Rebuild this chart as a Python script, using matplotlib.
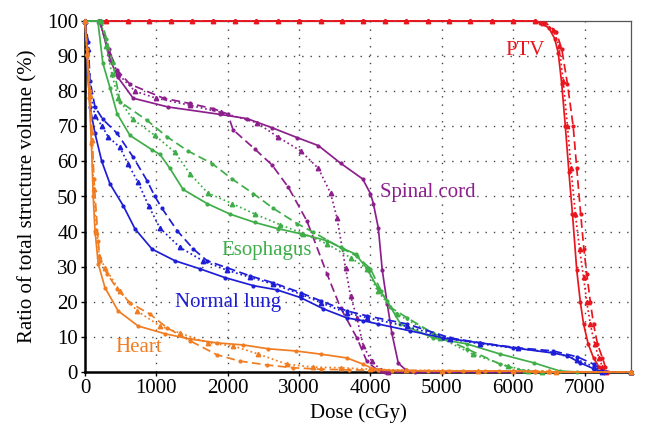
import matplotlib
matplotlib.use("Agg")
import matplotlib.pyplot as plt

plt.rcParams['font.family'] = ['Liberation Serif', 'DejaVu Serif']

# ---------------- data (dose cGy, volume %) ----------------
ptv_top_d = [0, 300, 600, 900, 1200, 1500, 1800, 2100, 2400, 2700, 3000, 3300, 3600,
             3900, 4200, 4500, 4800, 5100, 5400, 5700, 6000, 6300]
ptv_a_d = ptv_top_d + [6380, 6500, 6580, 6630, 6680, 6730, 6780, 6830, 6890, 6940, 6985, 7050, 7125, 7200, 7270, 7650]
ptv_a_v = [100] * 22 + [99.5, 98, 95, 91, 82, 70, 57, 45, 29, 20, 13.7, 8, 4, 1.5, 0, 0]
ptv_b_d = ptv_top_d + [6450, 6600, 6680, 6760, 6840, 6890, 6945, 6990, 7030, 7080, 7125, 7180, 7250, 7290, 7330, 7650]
ptv_b_v = [100] * 22 + [99.5, 97, 92, 82, 70, 58, 45, 35, 28, 20, 13.7, 8, 4, 1.5, 0, 0]
ptv_c_d = ptv_top_d + [6420, 6560, 6640, 6700, 6760, 6810, 6870, 6930, 6985, 7030, 7080, 7140, 7200, 7250, 7300, 7650]
ptv_c_v = [100] * 22 + [99.5, 97.5, 93, 83, 70, 58, 45, 35, 27, 20, 13.7, 8, 4, 1.5, 0, 0]

cord_a_d = [0, 210, 350, 460, 675, 1165, 1890, 2270, 2620, 2970, 3270, 3580, 3890, 4000, 4040, 4110, 4165, 4235, 4300, 4390, 4500, 4630, 7650]
cord_a_v = [100, 100, 89, 84, 78, 75.5, 73.4, 72.2, 69.6, 66.8, 64.5, 59.5, 55, 50.8, 48, 41, 29, 19.4, 11, 2.5, 0.5, 0, 0]
cord_b_d = [0, 200, 330, 450, 630, 1100, 1470, 1800, 2000, 2075, 2380, 2620, 2850, 3110, 3390, 3580, 3810, 3950, 4100, 4200, 7650]
cord_b_v = [100, 100, 92, 86, 82, 78, 76.5, 75, 73.5, 69, 63.5, 59, 52.6, 43, 28, 18.3, 9.7, 3, 0.5, 0, 0]
cord_c_d = [0, 200, 340, 460, 700, 1000, 1470, 1900, 2410, 2700, 3020, 3270, 3440, 3530, 3650, 3720, 3810, 3900, 4020, 4150, 4250, 7650]
cord_c_v = [100, 100, 91, 85, 80, 78, 76, 74, 71, 67, 63, 58, 51, 44, 29.7, 21.7, 15.4, 7.4, 3, 0.5, 0, 0]

eso_a_d = [0, 180, 250, 350, 450, 630, 940, 1050, 1190, 1375, 1710, 2030, 2380, 2710, 3020, 3390, 3580, 3790, 3950, 4100, 4230, 4420, 4880, 5350, 5820, 6290, 6650, 6900, 7650]
eso_a_v = [100, 100, 88, 81, 73.6, 67.4, 63.3, 62, 58, 52, 48, 45, 42.6, 40.8, 39.4, 37.4, 35.5, 33.6, 29.5, 24, 20.3, 13.7, 9.7, 8, 5.1, 2.6, 0.3, 0, 0]
eso_b_d = [0, 230, 300, 390, 490, 870, 1150, 1440, 1780, 2060, 2360, 2640, 2970, 3200, 3620, 3810, 4000, 4150, 4280, 4510, 4880, 5350, 5820, 6150, 6300, 7650]
eso_b_v = [100, 100, 95, 88, 77, 71.7, 67, 63, 59.4, 55, 50.8, 46.6, 42.3, 39.8, 35, 33, 29.4, 23, 18.4, 15.5, 11, 6.6, 2.2, 0.3, 0, 0]
eso_c_d = [0, 220, 300, 375, 465, 670, 980, 1260, 1470, 1720, 2060, 2380, 2730, 3060, 3390, 3720, 3950, 4100, 4370, 4980, 5440, 5920, 6200, 6400, 7650]
eso_c_v = [100, 100, 93, 85, 78, 72, 67.4, 62.6, 56.5, 51, 48, 45, 42, 39.4, 36.5, 32.6, 29.4, 23, 16.5, 9.7, 5, 1.7, 0.3, 0, 0]

lung_a_d = [0, 20, 40, 70, 140, 235, 350, 535, 700, 940, 1260, 1610, 1960, 2360, 2690, 3020, 3340, 3670, 3900, 4100, 4560, 5020, 5540, 6000, 6560, 6760, 6940, 7130, 7250, 7650]
lung_a_v = [100, 95, 85, 75.5, 68, 60, 53.6, 47.4, 40.8, 35, 31.7, 29.4, 26.9, 24.6, 23.4, 21.2, 18, 15.4, 14.6, 13.7, 11.7, 9.7, 8.3, 6.9, 5.4, 4.6, 2.6, 0.9, 0, 0]
lung_b_d = [0, 45, 70, 140, 250, 450, 675, 870, 980, 1080, 1290, 1520, 1710, 1990, 2310, 2640, 3020, 3300, 3670, 3950, 4510, 5120, 5540, 6060, 6560, 6900, 7130, 7250, 7300, 7650]
lung_b_v = [100, 94, 83, 75.5, 72, 68, 61.2, 54.5, 50, 46.6, 40.3, 35, 31.7, 29.7, 27.4, 25.4, 22.6, 20.3, 17.4, 16, 13.7, 9.7, 8.3, 6.9, 6, 4.3, 2.2, 0.3, 0, 0]
lung_c_d = [0, 40, 70, 140, 240, 325, 490, 600, 745, 890, 1050, 1330, 1650, 1990, 2310, 2640, 3020, 3300, 3670, 3950, 4510, 5120, 5540, 6060, 6560, 6900, 7130, 7250, 7650]
lung_c_v = [100, 92, 80, 73, 70, 67, 64, 59.4, 54, 47.4, 41, 35.5, 31.7, 29, 27, 25, 22.2, 19.8, 16.8, 15.5, 13, 9.4, 8, 6.7, 5.6, 3.5, 1.5, 0, 0]

heart_a_d = [0, 30, 60, 90, 115, 140, 185, 280, 465, 745, 1120, 1470, 1850, 2220, 2570, 2950, 3300, 3670, 3900, 4040, 4300, 4800, 5300, 5800, 6300, 6500, 7650]
heart_a_v = [100, 90, 78, 65, 50, 40.3, 30.9, 24, 17.4, 13.1, 10.9, 9.4, 8.3, 7.7, 6.6, 6, 5.1, 4, 2.2, 0.9, 0.4, 0.3, 0.3, 0.3, 0.2, 0, 0]
heart_b_d = [0, 35, 70, 100, 125, 185, 210, 310, 450, 630, 910, 1150, 1470, 1850, 2170, 2550, 2920, 3300, 3700, 4100, 4600, 5100, 5600, 6000, 6300, 7650]
heart_b_v = [100, 92, 80, 68, 55, 37.4, 31.7, 28, 23.7, 19.7, 16.5, 12.6, 8.9, 4.9, 3.1, 2, 1.2, 0.8, 0.6, 0.5, 0.4, 0.3, 0.3, 0.2, 0, 0]
heart_c_d = [0, 30, 65, 95, 120, 160, 200, 280, 490, 730, 1050, 1330, 1720, 2080, 2430, 2830, 3200, 3580, 4000, 4500, 5000, 5500, 6000, 6500, 6600, 7650]
heart_c_v = [100, 91, 79, 66, 52, 40, 33, 29.7, 23, 17.4, 13.1, 11.1, 8.3, 7.4, 5.1, 2.2, 1.4, 1.2, 0.8, 0.5, 0.4, 0.3, 0.3, 0.2, 0, 0]

structures = [
    ("PTV", '#e8161e', (ptv_a_d, ptv_a_v), (ptv_b_d, ptv_b_v), (ptv_c_d, ptv_c_v), (6160, 91.5)),
    ("Spinal cord", '#8c1f8c', (cord_a_d, cord_a_v), (cord_b_d, cord_b_v), (cord_c_d, cord_c_v), (4810, 51)),
    ("Esophagus", '#3fae49', (eso_a_d, eso_a_v), (eso_b_d, eso_b_v), (eso_c_d, eso_c_v), (2540, 34.6)),
    ("Normal lung", '#1e1ed6', (lung_a_d, lung_a_v), (lung_b_d, lung_b_v), (lung_c_d, lung_c_v), (2010, 19.7)),
    ("Heart", '#f07d22', (heart_a_d, heart_a_v), (heart_b_d, heart_b_v), (heart_c_d, heart_c_v), (760, 6.9)),
]

xticks = [0, 1000, 2000, 3000, 4000, 5000, 6000, 7000]
yticks = [0, 10, 20, 30, 40, 50, 60, 70, 80, 90, 100]

# ---------------- figure ----------------
fig = plt.figure(figsize=(6.45, 4.48), dpi=100)
ax = fig.add_axes([85 / 645, 1 - 372 / 448, (631 - 85) / 645, (372 - 21) / 448])

for xv in xticks[1:]:
    ax.axvline(xv, color='#444444', lw=1.0, ls=(0, (1, 5)), zorder=1)
for yv in yticks[1:-1]:
    ax.axhline(yv, color='#444444', lw=1.0, ls=(0, (1, 5)), zorder=1)

for name, col, solid, dashed, dotted, (tx, ty) in structures:
    ax.plot(solid[0], solid[1], color=col, lw=1.25, ls='-', marker='o', ms=2.0,
            clip_on=False, zorder=3)
    ax.plot(dashed[0], dashed[1], color=col, lw=1.25, ls=(0, (5, 2.5)), marker='o', ms=2.0,
            clip_on=False, zorder=3)
    ax.plot(dotted[0], dotted[1], color=col, lw=1.25, ls=(0, (1, 1.6)), marker='^', ms=3.2,
            clip_on=False, zorder=3)
    ax.text(tx, ty, name, color=col, fontsize=15, ha='center', va='center', zorder=4)

ax.set_xlim(0, 7650)
ax.set_ylim(0, 100)
ax.set_xticks(xticks)
ax.set_yticks(yticks)
ax.tick_params(labelsize=15, length=3, width=1, direction='out', pad=2, colors='black')
ax.set_xlabel("Dose (cGy)", fontsize=15, labelpad=4)
ax.set_ylabel("Ratio of total structure volume (%)", fontsize=15, labelpad=7)

for s in ['left', 'bottom']:
    ax.spines[s].set_linewidth(1.8)
    ax.spines[s].set_color('black')
for s in ['top', 'right']:
    ax.spines[s].set_linewidth(0.9)
    ax.spines[s].set_color('#555555')

fig.savefig("out.png", dpi=100)
